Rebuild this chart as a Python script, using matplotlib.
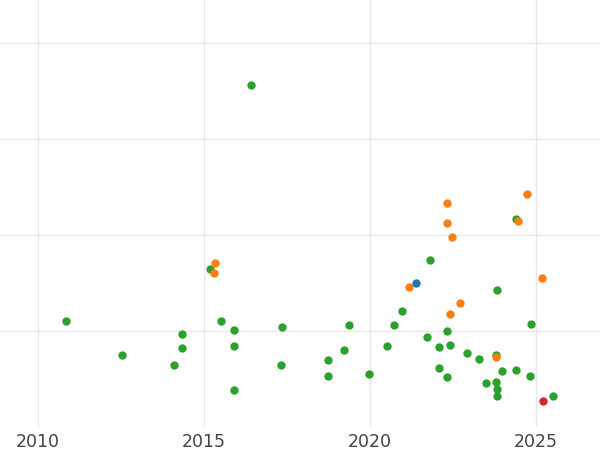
import matplotlib
matplotlib.use("Agg")
import matplotlib.pyplot as plt

green_x = [2016.42,2015.18,2010.84,2012.53,2014.34,2014.34,2014.10,2015.51,2015.90,2015.90,2015.90,2017.35,2017.32,2018.73,2018.73,2019.22,2019.37,2019.97,2020.51,2020.72,2020.96,2021.81,2021.72,2022.08,2022.08,2022.32,2022.41,2022.32,2022.92,2023.28,2023.49,2023.80,2023.83,2023.80,2023.83,2023.83,2023.98,2024.40,2024.40,2024.82,2024.85,2025.51]
green_y = [3.56,1.65,1.10,0.75,0.97,0.82,0.65,1.10,1.01,0.84,0.39,1.04,0.65,0.70,0.53,0.80,1.06,0.55,0.84,1.06,1.21,1.74,0.94,0.83,0.61,1.00,0.85,0.52,0.77,0.71,0.46,0.75,1.43,0.47,0.40,0.32,0.58,2.17,0.59,0.53,1.07,0.32]
orange_x = [2015.33,2015.30,2021.17,2022.32,2022.32,2022.47,2022.71,2022.41,2023.80,2024.46,2024.73,2025.18]
orange_y = [1.71,1.60,1.46,2.33,2.13,1.98,1.29,1.18,0.73,2.15,2.43,1.55]
blue_x = [2021.39]
blue_y = [1.50]
red_x = [2025.21]
red_y = [0.27]
xticks = [2010, 2015, 2020, 2025]

fig = plt.figure(figsize=(6, 4.5), dpi=100)
ax = fig.add_axes([0, 1 - 427/450, 1, 427/450])
ax.scatter(green_x, green_y, s=36, color="#2ca02c", zorder=3, linewidths=0)
ax.scatter(orange_x, orange_y, s=36, color="#ff7f0e", zorder=3, linewidths=0)
ax.scatter(blue_x, blue_y, s=36, color="#1f77b4", zorder=3, linewidths=0)
ax.scatter(red_x, red_y, s=36, color="#d62728", zorder=3, linewidths=0)
ax.set_xlim(2008.86, 2026.93)
ax.set_ylim(0, 4.45)
ax.set_xticks(xticks)
ax.set_xticklabels([str(t) for t in xticks], fontsize=12.5, color="#444444")
ax.set_yticks([1, 2, 3, 4])
ax.set_yticklabels([])
ax.tick_params(length=0, pad=4)
ax.grid(True, color="#e8e8e8", linewidth=1)
ax.set_axisbelow(True)
for s in ax.spines.values():
    s.set_visible(False)
fig.savefig("out.png", dpi=100)
